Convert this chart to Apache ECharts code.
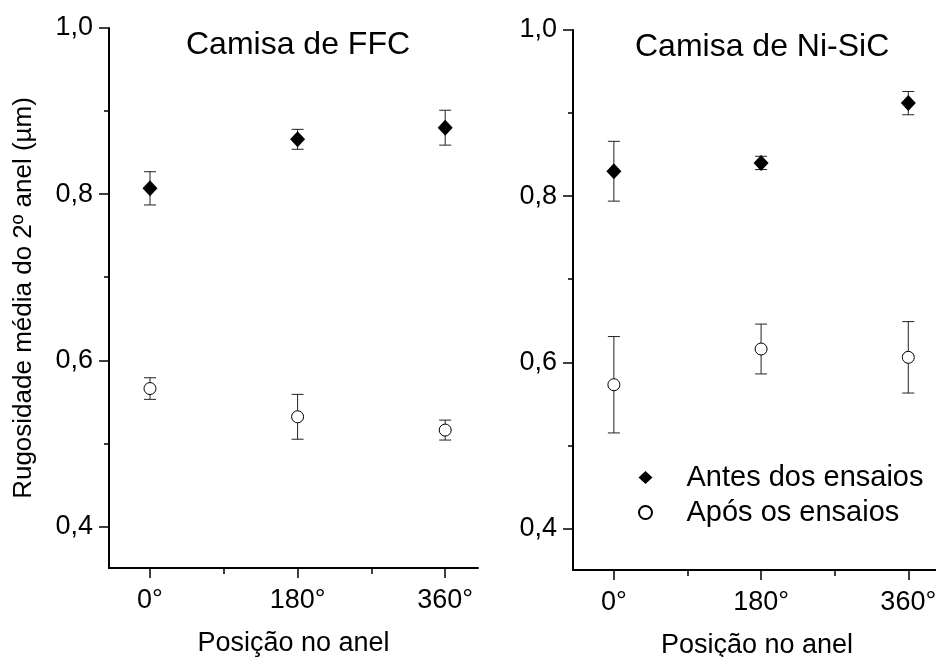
<!DOCTYPE html>
<html>
<head>
<meta charset="utf-8">
<script src="https://cdn.jsdelivr.net/npm/echarts@6/dist/echarts.min.js"></script>
<style>
  html, body { margin: 0; padding: 0; background: #fff; }
  #chart { width: 936px; height: 657px; }
</style>
</head>
<body>
<div id="chart"></div>
<script>
// x positions on the ring (degrees) and their labels
const positions = [0, 180, 360];
const positionLabels = ['0°', '180°', '360°'];
const minorPositions = [90, 270];
const yTicks = [0.4, 0.6, 0.8, 1.0];
const yMinorTicks = [0.5, 0.7, 0.9];

// Camisa de FFC
const ffcBefore = [0.807, 0.866, 0.880];
const ffcBeforeErr = [0.020, 0.012, 0.021];
const ffcAfter = [0.566, 0.532, 0.516];
const ffcAfterErr = [0.013, 0.027, 0.012];

// Camisa de Ni-SiC
const nisicBefore = [0.830, 0.840, 0.912];
const nisicBeforeErr = [0.036, 0.008, 0.014];
const nisicAfter = [0.573, 0.616, 0.606];
const nisicAfterErr = [0.058, 0.030, 0.043];

const FONT = 'Liberation Sans, Arial, sans-serif';

const chart = echarts.init(document.getElementById('chart'));

const points = (vals) => positions.map((p, i) => [p, vals[i]]);
const bars = (vals, errs) => positions.map((p, i) => [p, vals[i] - errs[i], vals[i] + errs[i]]);

function renderErrorBar(params, api) {
  const x = api.value(0);
  const lo = api.coord([x, api.value(1)]);
  const hi = api.coord([x, api.value(2)]);
  const half = 6;
  const style = { stroke: '#222', lineWidth: 1 };
  return {
    type: 'group',
    children: [
      { type: 'line', shape: { x1: hi[0], y1: hi[1], x2: lo[0], y2: lo[1] }, style },
      { type: 'line', shape: { x1: hi[0] - half, y1: hi[1], x2: hi[0] + half, y2: hi[1] }, style },
      { type: 'line', shape: { x1: lo[0] - half, y1: lo[1], x2: lo[0] + half, y2: lo[1] }, style }
    ]
  };
}

function mainX(grid) {
  return {
    type: 'value', gridIndex: grid, min: -50, max: 400, position: 'bottom',
    splitLine: { show: false },
    axisLine: { onZero: false, lineStyle: { color: '#000', width: 2 } },
    axisTick: { customValues: positions, length: 10, lineStyle: { color: '#000', width: 1.5 } },
    axisLabel: {
      customValues: positions, margin: 19, color: '#000', fontSize: 27, fontFamily: FONT,
      formatter: (v) => positionLabels[positions.indexOf(v)]
    },
    name: 'Posição no anel', nameLocation: 'middle', nameGap: 62,
    nameTextStyle: { color: '#000', fontSize: 27, fontFamily: FONT }
  };
}
function minorX(grid) {
  return {
    type: 'value', gridIndex: grid, min: -50, max: 400, position: 'bottom',
    splitLine: { show: false }, axisLine: { show: false, onZero: false }, axisLabel: { show: false },
    axisTick: { customValues: minorPositions, length: 6, lineStyle: { color: '#000', width: 1.5 } }
  };
}
function mainY(grid, withName) {
  const ax = {
    type: 'value', gridIndex: grid, min: 0.35, max: 1.0, position: 'left',
    splitLine: { show: false },
    axisLine: { show: true, onZero: false, lineStyle: { color: '#000', width: 2 } },
    axisTick: { show: true, customValues: yTicks, length: 10, lineStyle: { color: '#000', width: 1.5 } },
    axisLabel: {
      customValues: yTicks, margin: 16, color: '#000', fontSize: 27, fontFamily: FONT,
      formatter: (v) => v.toFixed(1).replace('.', ',')
    }
  };
  if (withName) {
    ax.name = 'Rugosidade média do 2º anel (µm)';
    ax.nameLocation = 'middle';
    ax.nameGap = 72;
    ax.nameTextStyle = { color: '#000', fontSize: 26, fontFamily: FONT };
  }
  return ax;
}
function minorY(grid) {
  return {
    type: 'value', gridIndex: grid, min: 0.35, max: 1.0, position: 'left',
    splitLine: { show: false }, axisLine: { show: false, onZero: false }, axisLabel: { show: false },
    axisTick: { show: true, customValues: yMinorTicks, length: 5, lineStyle: { color: '#000', width: 1.5 } }
  };
}

const diamondStyle = { color: '#000', opacity: 1 };
const circleStyle = { color: '#fff', borderColor: '#000', borderWidth: 1, opacity: 1 };

function panelSeries(xMain, yMain, before, beforeErr, after, afterErr) {
  return [
    { type: 'custom', name: 'err-before', xAxisIndex: xMain, yAxisIndex: yMain,
      renderItem: renderErrorBar, encode: { x: 0, y: [1, 2] }, data: bars(before, beforeErr), z: 1 },
    { type: 'custom', name: 'err-after', xAxisIndex: xMain, yAxisIndex: yMain,
      renderItem: renderErrorBar, encode: { x: 0, y: [1, 2] }, data: bars(after, afterErr), z: 1 },
    { type: 'scatter', name: 'Antes dos ensaios', xAxisIndex: xMain, yAxisIndex: yMain,
      symbol: 'diamond', symbolSize: [15, 16], itemStyle: diamondStyle, data: points(before), z: 3 },
    { type: 'scatter', name: 'Após os ensaios', xAxisIndex: xMain, yAxisIndex: yMain,
      symbol: 'circle', symbolSize: 12, itemStyle: circleStyle, data: points(after), z: 3 }
  ];
}

const option = {
  backgroundColor: '#fff',
  animation: false,
  title: [
    { text: 'Camisa de FFC', left: 181, top: 24, textStyle: { color: '#000', fontSize: 32, fontWeight: 'normal', fontFamily: FONT } },
    { text: 'Camisa de Ni-SiC', left: 630, top: 26, textStyle: { color: '#000', fontSize: 32, fontWeight: 'normal', fontFamily: FONT } }
  ],
  legend: {
    orient: 'vertical', left: 633, top: 458, itemWidth: 14, itemHeight: 13, itemGap: 6,
    data: [
      { name: 'Antes dos ensaios', icon: 'diamond' },
      { name: 'Após os ensaios', icon: 'circle' }
    ],
    textStyle: { color: '#000', fontSize: 29, fontFamily: FONT, padding: [0, 0, 0, 29] }
  },
  grid: [
    { left: 109, top: 28, width: 369, height: 540, outerBoundsMode: 'none' },
    { left: 573, top: 30, width: 368, height: 540, outerBoundsMode: 'none' }
  ],
  xAxis: [mainX(0), minorX(0), mainX(1), minorX(1)],
  yAxis: [mainY(0, true), minorY(0), mainY(1, false), minorY(1)],
  series: [
    ...panelSeries(0, 0, ffcBefore, ffcBeforeErr, ffcAfter, ffcAfterErr),
    ...panelSeries(2, 2, nisicBefore, nisicBeforeErr, nisicAfter, nisicAfterErr)
  ]
};

chart.setOption(option);
</script>
</body>
</html>
